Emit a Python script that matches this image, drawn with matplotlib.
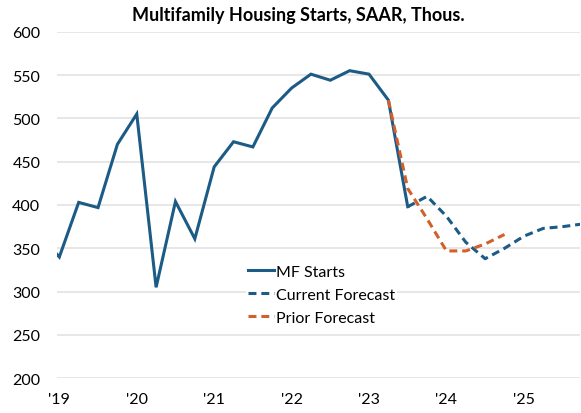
import matplotlib
matplotlib.use("Agg")
import matplotlib.pyplot as plt

plt.rcParams['font.family'] = ['Lato', 'DejaVu Sans']

# ---- data (quarterly, SAAR, thousands) ----
mf_quarters = ["2018Q4", "2019Q1", "2019Q2", "2019Q3", "2019Q4",
               "2020Q1", "2020Q2", "2020Q3", "2020Q4",
               "2021Q1", "2021Q2", "2021Q3", "2021Q4",
               "2022Q1", "2022Q2", "2022Q3", "2022Q4",
               "2023Q1", "2023Q2", "2023Q3"]
mf_starts = [365, 340, 403, 397, 470,
             505, 305, 404, 361,
             444, 473, 467, 512,
             535, 551, 544, 555,
             551, 521, 398]

cur_quarters = ["2023Q3", "2023Q4", "2024Q1", "2024Q2", "2024Q3", "2024Q4",
                "2025Q1", "2025Q2", "2025Q3", "2025Q4"]
cur_forecast = [398, 410, 387, 357, 338, 350, 364, 373, 375, 378]

prior_quarters = ["2023Q2", "2023Q3", "2023Q4", "2024Q1", "2024Q2", "2024Q3", "2024Q4"]
prior_forecast = [521, 419, 384, 347, 347, 355, 366]

tick_years = [2019, 2020, 2021, 2022, 2023, 2024, 2025]
tick_labels = ["'19", "'20", "'21", "'22", "'23", "'24", "'25"]
y_ticks = [200, 250, 300, 350, 400, 450, 500, 550, 600]

title = "Multifamily Housing Starts, SAAR, Thous."
labels = ["MF Starts", "Current Forecast", "Prior Forecast"]

BLUE = "#1b5b86"
ORANGE = "#d2602b"


def qidx(q):
    y, n = q.split("Q")
    return (int(y) - 2019) * 4 + int(n) - 1


fig = plt.figure(figsize=(5.81, 4.14), dpi=100)
ax = fig.add_axes([57 / 581, 34.7 / 414, 523 / 581, 346.6 / 414])

ax.plot([qidx(q) for q in mf_quarters], mf_starts, color=BLUE, lw=2.2,
        solid_joinstyle='miter', label=labels[0], zorder=3)
ax.plot([qidx(q) for q in cur_quarters], cur_forecast, color=BLUE, lw=2.2,
        linestyle=(0, (2.6, 1.6)), label=labels[1], zorder=3)
ax.plot([qidx(q) for q in prior_quarters], prior_forecast, color=ORANGE, lw=2.2,
        linestyle=(0, (2.6, 1.6)), label=labels[2], zorder=4)

ax.set_xlim(-0.12, 26.9)
ax.set_ylim(200, 600)
ax.set_yticks(y_ticks)
ax.set_xticks([(y - 2019) * 4 for y in tick_years])
ax.set_xticklabels(tick_labels)
ax.grid(axis='y', color='#e3e3e3', lw=1.2, zorder=0)
ax.set_axisbelow(True)
for s in ax.spines.values():
    s.set_visible(False)
ax.tick_params(axis='both', length=0, labelsize=11.5, colors='black')
ax.tick_params(axis='y', pad=12)
ax.tick_params(axis='x', pad=10)

fig.text(298 / 581, 1 - 15 / 414, title, ha='center', va='center',
         fontsize=13, fontweight='bold')

leg = ax.legend(loc='upper left', bbox_to_anchor=(246 / 581, 1 - 263 / 414),
                bbox_transform=fig.transFigure, frameon=True, fancybox=False,
                edgecolor='none', facecolor='white', framealpha=1,
                fontsize=11.5, handlelength=1.6, handletextpad=0.1,
                labelspacing=0.55, borderpad=0.15, borderaxespad=0)
leg.set_zorder(5)

fig.savefig("out.png", dpi=100)
